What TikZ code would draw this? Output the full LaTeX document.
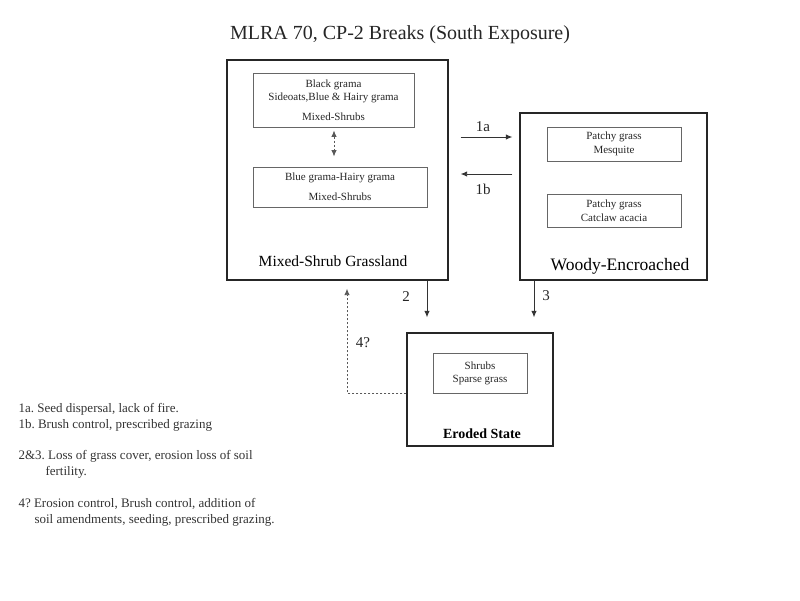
\documentclass[tikz,border=0pt]{standalone}
\usepackage{fontspec}
\setmainfont{Liberation Serif}
\usetikzlibrary{arrows.meta}
\frenchspacing

\begin{document}
\begin{tikzpicture}[x=1pt,y=-1pt]
			\tikzstyle{state}=[draw=black!85,line width=1.3pt,inner sep=0pt]
			\tikzstyle{phase}=[draw=black!60,line width=0.9pt,inner sep=0pt,align=center,text=black!85]
			\tikzstyle{arr}=[draw=black!80,line width=0.9pt,-{Latex[length=6.5pt,width=5.5pt]}]
			\tikzstyle{darr}=[draw=black!65,line width=0.9pt,dash pattern=on 2pt off 2pt,-{Latex[length=6.5pt,width=5.5pt]}]
			\tikzstyle{num}=[font=\fontsize{15}{18}\selectfont,text=black!85]
			\tikzstyle{note}=[anchor=base west,align=left,font=\fontsize{13}{16.5}\selectfont,text=black!80]

			\useasboundingbox (0,0) rectangle (800,600);

			\node (title) at (400,35) [font=\fontsize{20}{24}\selectfont,text=black!85] {MLRA 70, CP-2 Breaks (South Exposure)};

			% states
			\node (msg) at (337.5,170) [state,minimum width=221pt,minimum height=220pt] {};
			\node (woody) at (613.5,196.5) [state,minimum width=187pt,minimum height=167pt] {};
			\node (ero) at (480,389.5) [state,minimum width=146pt,minimum height=113pt] {};

			\node (msglab) at (333,261) [font=\fontsize{15.5}{18}\selectfont] {Mixed-Shrub Grassland};
			\node (woodylab) at (620,266) [font=\fontsize{17.5}{20}\selectfont] {Woody-Encroached};
			\node (erolab) at (482,434) [font=\bfseries\fontsize{14}{17}\selectfont] {Eroded State};

			% phases
			\node (bg) at (333.5,100) [phase,minimum width=161pt,minimum height=54pt,font=\fontsize{11}{13}\selectfont] {Black grama\\Sideoats,Blue \& Hairy grama\\[7pt]Mixed-Shrubs};
			\node (bh) at (340,187) [phase,minimum width=174pt,minimum height=40pt,font=\fontsize{11}{13}\selectfont] {Blue grama-Hairy grama\\[7pt]Mixed-Shrubs};
			\node (mesq) at (614,144) [phase,minimum width=134pt,minimum height=34pt,font=\fontsize{11}{14}\selectfont] {Patchy grass\\Mesquite};
			\node (cat) at (614,210.5) [phase,minimum width=134pt,minimum height=33pt,font=\fontsize{11}{14}\selectfont] {Patchy grass\\Catclaw acacia};
			\node (shr) at (480,373) [phase,minimum width=94pt,minimum height=40pt,font=\fontsize{11}{13}\selectfont] {Shrubs\\Sparse grass};

			\draw [darr,{Latex[length=6.5pt,width=5.5pt]}-{Latex[length=6.5pt,width=5.5pt]},shorten <=3pt,shorten >=10pt] (bg.south -| 334,0) -- (bh.north -| 334,0);

			% transitions
			\draw [arr,shorten <=12pt,shorten >=7pt] (msg.east |- 0,137) -- (woody.west |- 0,137);
			\draw [arr,shorten <=7pt,shorten >=12pt] (woody.west |- 0,174) -- (msg.east |- 0,174);
			\draw [arr,shorten >=15pt] (msg.south -| 427,0) -- (ero.north -| 427,0);
			\draw [arr,shorten >=15pt] (woody.south -| 534,0) -- (ero.north -| 534,0);
			\draw [darr,shorten >=8pt] (ero.west |- 0,393) -| (msg.south -| 347,0);

			\node (l1a) at (483,127) [num] {1a};
			\node (l1b) at (483,189) [num] {1b};
			\node (l2) at (406,297) [num] {2};
			\node (l3) at (546,296) [num] {3};
			\node (l4) at (363,343) [num] {4?};

			% legend
			\node (n1) at (15,428.5) [note] {1a. Seed dispersal, lack of fire.\\1b. Brush control, prescribed grazing};
			\node (n2) at (15,475.5) [note] {2\&3. Loss of grass cover, erosion loss of soil\\\hspace*{27pt}fertility.};
			\node (n3) at (15,523.5) [note] {4? Erosion control, Brush control, addition of\\\hspace*{16pt}soil amendments, seeding, prescribed grazing.};
		\end{tikzpicture}
\end{document}
